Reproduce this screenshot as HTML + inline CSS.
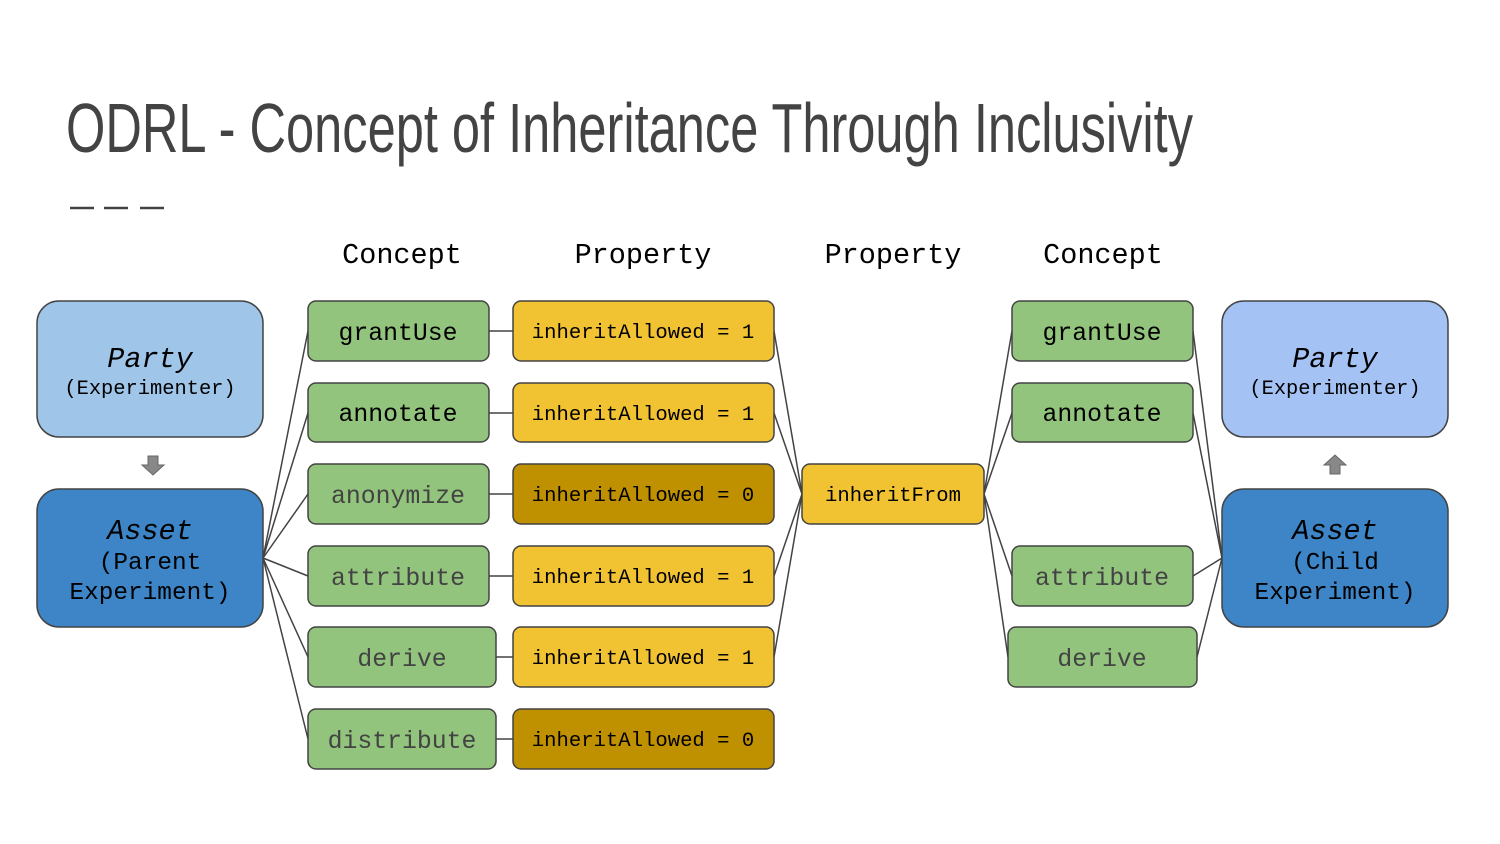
<!DOCTYPE html>
<html><head><meta charset="utf-8"><style>
html,body{margin:0;padding:0;background:#fff;width:1500px;height:844px;overflow:hidden}
text{font-family:"Liberation Mono","DejaVu Sans Mono",monospace}
</style></head><body>
<svg width="1500" height="844" viewBox="0 0 1500 844" xmlns="http://www.w3.org/2000/svg">
<text x="66" y="152" textLength="1127" lengthAdjust="spacingAndGlyphs" style="font-family:'Liberation Sans Narrow','Liberation Sans',sans-serif;font-size:70px" fill="#434343">ODRL - Concept of Inheritance Through Inclusivity</text>
<g stroke="#434343" stroke-width="2.5"><line x1="70" y1="208" x2="94" y2="208"/><line x1="104" y1="208" x2="128" y2="208"/><line x1="140" y1="208" x2="164" y2="208"/></g>
<g font-size="28.5" fill="#000" text-anchor="middle">
<text x="402" y="263">Concept</text><text x="643" y="263">Property</text><text x="893" y="263">Property</text><text x="1103" y="263">Concept</text></g>
<g stroke="#434343" stroke-width="1.5" fill="none">
<line x1="263" y1="558" x2="308" y2="331"/><line x1="263" y1="558" x2="308" y2="413"/><line x1="263" y1="558" x2="308" y2="494"/><line x1="263" y1="558" x2="308" y2="576"/><line x1="263" y1="558" x2="308" y2="657"/><line x1="263" y1="558" x2="308" y2="739"/>
<line x1="489" y1="331" x2="513" y2="331"/><line x1="489" y1="413" x2="513" y2="413"/><line x1="489" y1="494" x2="513" y2="494"/><line x1="489" y1="576" x2="513" y2="576"/><line x1="496" y1="657" x2="513" y2="657"/><line x1="496" y1="739" x2="513" y2="739"/>
<line x1="774" y1="331" x2="802" y2="494"/><line x1="774" y1="413" x2="802" y2="494"/><line x1="774" y1="576" x2="802" y2="494"/><line x1="774" y1="657" x2="802" y2="494"/>
<line x1="984" y1="494" x2="1012" y2="331"/><line x1="984" y1="494" x2="1012" y2="413"/><line x1="984" y1="494" x2="1012" y2="576"/><line x1="984" y1="494" x2="1008" y2="657"/>
<line x1="1193" y1="331" x2="1222" y2="558"/><line x1="1193" y1="413" x2="1222" y2="558"/><line x1="1193" y1="576" x2="1222" y2="558"/><line x1="1197" y1="657" x2="1222" y2="558"/>
</g>
<g stroke="#434343" stroke-width="1.5">
<rect x="37" y="301" width="226" height="136" rx="22" fill="#9fc5e8"/>
<rect x="37" y="489" width="226" height="138" rx="22" fill="#3d85c6"/>
<rect x="1222" y="301" width="226" height="136" rx="22" fill="#a4c2f4"/>
<rect x="1222" y="489" width="226" height="138" rx="22" fill="#3d85c6"/>
<g fill="#93c47d">
<rect x="308" y="301" width="181" height="60" rx="8"/><rect x="308" y="383" width="181" height="59" rx="8"/><rect x="308" y="464" width="181" height="60" rx="8"/><rect x="308" y="546" width="181" height="60" rx="8"/><rect x="308" y="627" width="188" height="60" rx="8"/><rect x="308" y="709" width="188" height="60" rx="8"/>
<rect x="1012" y="301" width="181" height="60" rx="8"/><rect x="1012" y="383" width="181" height="59" rx="8"/><rect x="1012" y="546" width="181" height="60" rx="8"/><rect x="1008" y="627" width="189" height="60" rx="8"/>
</g>
<rect x="513" y="301" width="261" height="60" rx="8" fill="#f1c232"/><rect x="513" y="383" width="261" height="59" rx="8" fill="#f1c232"/><rect x="513" y="464" width="261" height="60" rx="8" fill="#bf9000"/><rect x="513" y="546" width="261" height="60" rx="8" fill="#f1c232"/><rect x="513" y="627" width="261" height="60" rx="8" fill="#f1c232"/><rect x="513" y="709" width="261" height="60" rx="8" fill="#bf9000"/>
<rect x="802" y="464" width="182" height="60" rx="8" fill="#f1c232"/>
</g>
<g fill="#888" stroke="#666" stroke-width="1">
<polygon points="148,456 158,456 158,465 164,465 153,475 142,465 148,465"/>
<polygon points="1330,474 1340,474 1340,465 1346,465 1335,455 1324,465 1330,465"/>
</g>
<g text-anchor="middle" fill="#000">
<text x="150" y="367" font-size="28.5" font-style="italic">Party</text>
<text x="150" y="394" font-size="20.4">(Experimenter)</text>
<text x="1335" y="367" font-size="28.5" font-style="italic">Party</text>
<text x="1335" y="394" font-size="20.4">(Experimenter)</text>
<text x="150" y="539" font-size="28.5" font-style="italic">Asset</text>
<text x="150" y="569" font-size="24.4">(Parent</text>
<text x="150" y="599" font-size="24.4">Experiment)</text>
<text x="1335" y="539" font-size="28.5" font-style="italic">Asset</text>
<text x="1335" y="569" font-size="24.4">(Child</text>
<text x="1335" y="599" font-size="24.4">Experiment)</text>
<g font-size="24.8">
<text x="398" y="340">grantUse</text><text x="398" y="421">annotate</text>
<text x="398" y="503" fill="#434343">anonymize</text><text x="398" y="585" fill="#434343">attribute</text>
<text x="402" y="666" fill="#434343">derive</text><text x="402" y="748" fill="#434343">distribute</text>
<text x="1102" y="340">grantUse</text><text x="1102" y="421">annotate</text>
<text x="1102" y="585" fill="#434343">attribute</text><text x="1102" y="666" fill="#434343">derive</text>
</g>
<g font-size="20.6">
<text x="643" y="338">inheritAllowed = 1</text><text x="643" y="420">inheritAllowed = 1</text><text x="643" y="501">inheritAllowed = 0</text><text x="643" y="583">inheritAllowed = 1</text><text x="643" y="664">inheritAllowed = 1</text><text x="643" y="746">inheritAllowed = 0</text>
<text x="893" y="501">inheritFrom</text>
</g>
</g>
</svg>
</body></html>
